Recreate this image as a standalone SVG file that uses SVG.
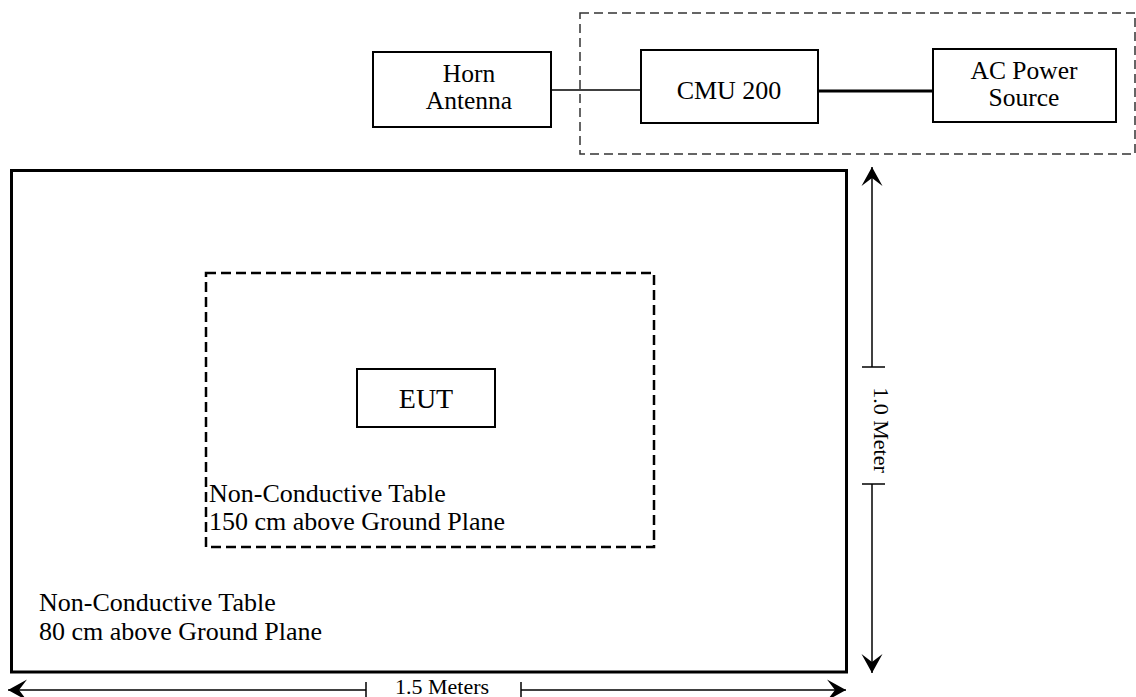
<svg xmlns="http://www.w3.org/2000/svg" width="1136" height="697" viewBox="0 0 1136 697">
<style>
  .box { fill: #fff; stroke: #000; stroke-width: 2; }
  .lbl { font-family: "Liberation Serif", "Times New Roman", serif; font-size: 26px; fill: #000; }
  .top { font-family: "Liberation Serif", "Times New Roman", serif; font-size: 25.5px; fill: #000; }
  .dim { font-family: "Liberation Serif", "Times New Roman", serif; font-size: 22px; fill: #000; }
  .ln { stroke: #000; fill: none; }
</style>
<defs>
  <marker id="arr" markerUnits="userSpaceOnUse" markerWidth="24" markerHeight="24" viewBox="-20 -12 22 24" refX="0" refY="0" orient="auto">
    <path d="M0,0 L-19,-10.5 L-11,0 L-19,10.5 Z" fill="#000"/>
  </marker>
</defs>
<rect width="1136" height="697" fill="#fff"/>

<g id="instrument-group">
  <rect x="580" y="13" width="555" height="141" fill="none" stroke="#333" stroke-width="1.5" stroke-dasharray="9,5"/>
</g>

<g id="connectors">
  <line class="ln" x1="551" y1="90" x2="641" y2="90" stroke-width="1.5"/>
  <line class="ln" x1="818" y1="91" x2="933" y2="91" stroke-width="3"/>
</g>

<g id="horn-antenna">
  <rect class="box" x="373" y="52" width="178" height="75"/>
  <text class="top" x="469" y="82" text-anchor="middle">Horn</text>
  <text class="top" x="469" y="109" text-anchor="middle">Antenna</text>
</g>

<g id="cmu200">
  <rect class="box" x="641" y="50" width="177" height="73"/>
  <text class="lbl" x="729" y="99" text-anchor="middle">CMU 200</text>
</g>

<g id="ac-power">
  <rect class="box" x="933" y="49" width="183" height="73"/>
  <text class="top" x="1024" y="79" text-anchor="middle">AC Power</text>
  <text class="top" x="1024" y="106" text-anchor="middle">Source</text>
</g>

<g id="outer-table">
  <rect x="11.5" y="170.5" width="835" height="501.5" fill="none" stroke="#000" stroke-width="3"/>
  <text class="lbl" x="39" y="611">Non-Conductive Table</text>
  <text class="lbl" x="39" y="640">80 cm above Ground Plane</text>
</g>

<g id="inner-table">
  <rect x="206" y="273" width="448" height="274" fill="none" stroke="#000" stroke-width="2.5" stroke-dasharray="10,5"/>
  <text class="lbl" x="209" y="502">Non-Conductive Table</text>
  <text class="lbl" x="209" y="530">150 cm above Ground Plane</text>
</g>

<g id="eut">
  <rect class="box" x="357" y="369" width="138" height="58"/>
  <text class="lbl" x="426" y="408" text-anchor="middle" style="font-size:28px">EUT</text>
</g>

<g id="dimension-1m">
  <line class="ln" x1="872" y1="367" x2="872" y2="167" stroke-width="1.5" marker-end="url(#arr)"/>
  <line class="ln" x1="872" y1="484" x2="872" y2="673" stroke-width="1.5" marker-end="url(#arr)"/>
  <line class="ln" x1="862" y1="367" x2="885" y2="367" stroke-width="1.5"/>
  <line class="ln" x1="862" y1="484" x2="885" y2="484" stroke-width="1.5"/>
  <text class="dim" transform="translate(874,430) rotate(90)" text-anchor="middle">1.0 Meter</text>
</g>

<g id="dimension-15m">
  <line class="ln" x1="366" y1="690" x2="8" y2="690" stroke-width="1.5" marker-end="url(#arr)"/>
  <line class="ln" x1="521" y1="690" x2="846" y2="690" stroke-width="1.5" marker-end="url(#arr)"/>
  <line class="ln" x1="366" y1="682" x2="366" y2="698" stroke-width="1.5"/>
  <line class="ln" x1="521" y1="682" x2="521" y2="698" stroke-width="1.5"/>
  <text class="dim" x="442" y="694" text-anchor="middle">1.5 Meters</text>
</g>
</svg>
